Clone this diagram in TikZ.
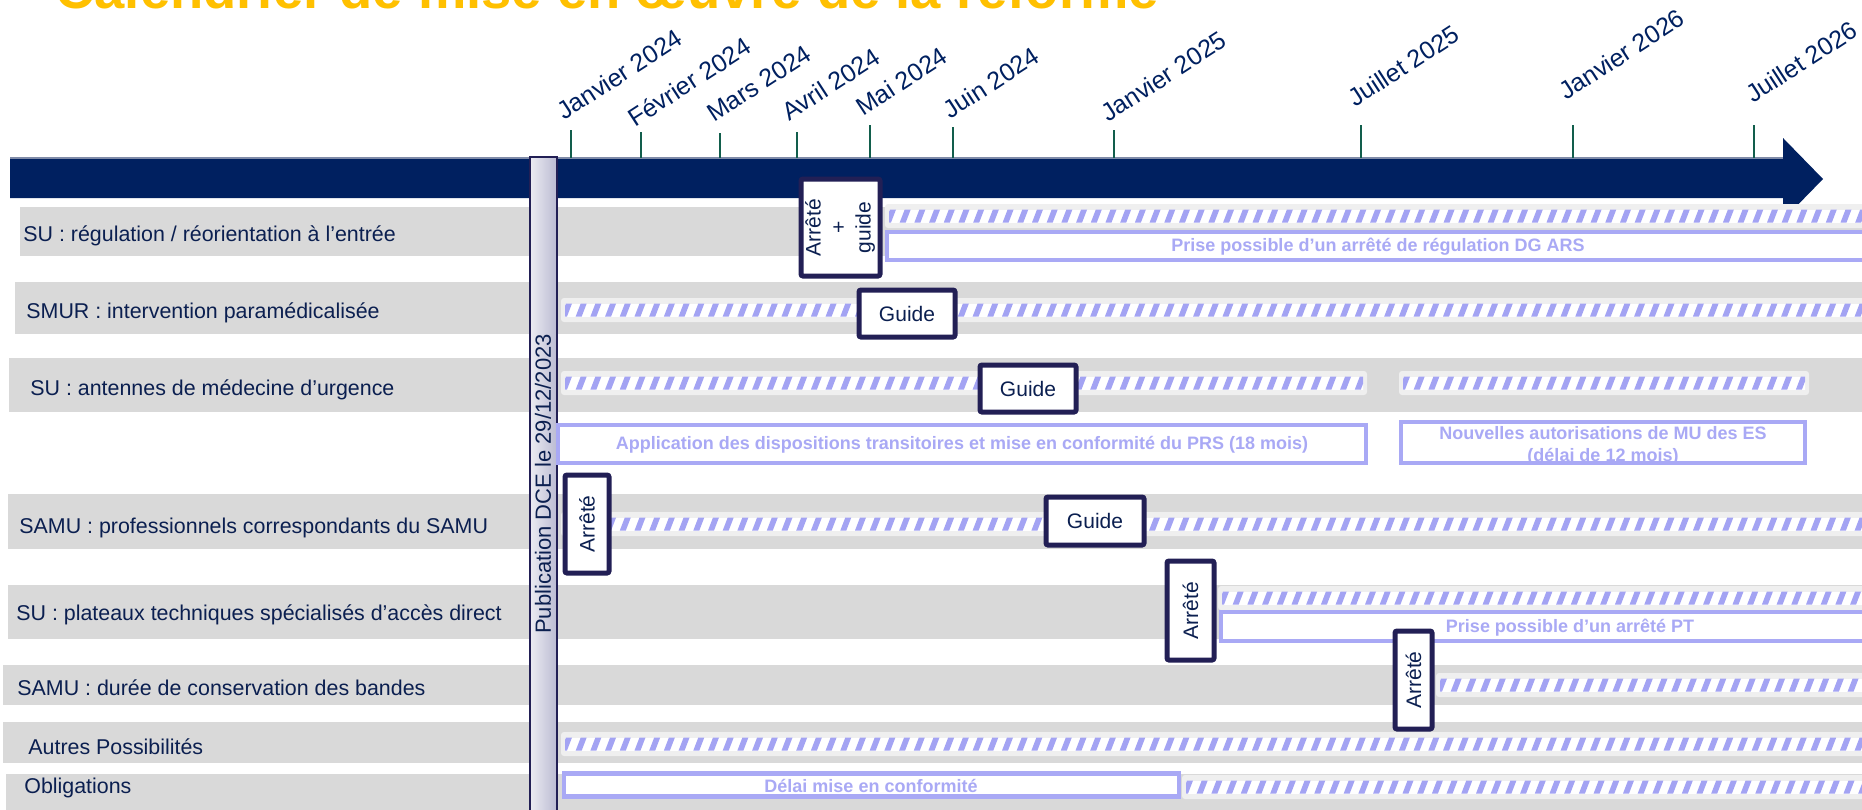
\documentclass[tikz,border=0pt]{standalone}
\usepackage{fontspec}
\setmainfont{Liberation Sans}
\usetikzlibrary{calc}
\definecolor{navy}{HTML}{002060}
\definecolor{txtnavy}{HTML}{0B1F50}
\definecolor{tickgreen}{HTML}{125E4C}
\definecolor{band}{HTML}{D9D9D9}
\definecolor{hatchbg}{HTML}{EFEFEF}
\definecolor{stripe}{HTML}{A3A3F3}
\definecolor{lav}{HTML}{A9A9F5}
\definecolor{evborder}{HTML}{221F55}
\definecolor{titleyellow}{HTML}{FFC000}
\definecolor{bartop}{HTML}{7F8BA8}

\newcommand{\hatchbar}[3]{%
  \fill[hatchbg, rounded corners=1.5pt] (#1,#3-12) rectangle (#2,#3+12);
  \begin{scope}
    \clip (#1+4,#3-6.5) rectangle (#2-4,#3+6.5);
    \fill[white] (#1,#3-6.5) rectangle (#2,#3+6.5);
    \pgfmathtruncatemacro{\nst}{(#2-#1)/14.7+1}
    \foreach \i in {0,...,\nst}{
      \fill[stripe] ({#1+\i*14.7},#3+6.5) -- ++(6,0) -- ++(5,-13) -- ++(-6,0) -- cycle;
    }
  \end{scope}}

\tikzset{
  rowlabel/.style={anchor=west, inner sep=0, font=\fontsize{10.7}{12}\selectfont, text=txtnavy},
  ticklabel/.style={anchor=base west, rotate=33, inner sep=0, font=\fontsize{12.5}{14}\selectfont, text=navy},
  tickline/.style={draw=tickgreen, line width=1pt},
  evbox/.style={draw=evborder, line width=2.5pt, fill=white, rounded corners=1pt, inner sep=0, outer sep=0,
    text=txtnavy, font=\fontsize{10.5}{12.5}\selectfont},
  lavbox/.style={draw=lav, line width=2.3pt, fill=white, inner sep=0, outer sep=0},
  lavtext/.style={inner sep=0, text=lav, font=\bfseries\fontsize{9}{11}\selectfont, align=center},
  bandfill/.style={fill=band}
}

\begin{document}
\begin{tikzpicture}[x=0.5pt, y=-0.5pt]
\useasboundingbox (0,0) rectangle (1862,809);
\clip (0,0) rectangle (1862,809);

% row bands
\fill[bandfill] (20,207) rectangle (1862,256);
\fill[bandfill] (15,282) rectangle (1862,334);
\fill[bandfill] (9,358) rectangle (1862,412);
\fill[bandfill] (8,494) rectangle (1862,549);
\fill[bandfill] (8,585) rectangle (1862,639);
\fill[bandfill] (3,665) rectangle (1862,705);
\fill[bandfill] (3,722) rectangle (1862,763);
\fill[bandfill] (6,774) rectangle (1862,812);

% timeline arrow
\fill[navy] (10,158) -- (1783,158) -- (1783,138) -- (1823,179) -- (1783,220) -- (1783,198) -- (10,198) -- cycle;
\draw[bartop, line width=0.6pt] (10,158) -- (1783,158);

% ticks
\foreach \tx/\ty in {571/130, 641/132, 720/133, 797/132, 870/125, 953/127, 1114/130, 1361/125, 1573/125, 1754/125}{
  \draw[tickline] (\tx,\ty) -- (\tx,158);
}

% tick labels
\node[ticklabel] (m1) at (564,121) {Janvier 2024};
\node[ticklabel] (m2) at (635,128) {Février 2024};
\node[ticklabel] (m3) at (714,123) {Mars 2024};
\node[ticklabel] (m4) at (789,122) {Avril 2024};
\node[ticklabel] (m5) at (863,117) {Mai 2024};
\node[ticklabel] (m6) at (950,120) {Juin 2024};
\node[ticklabel] (m7) at (1108,123) {Janvier 2025};
\node[ticklabel] (m8) at (1355,108) {Juillet 2025};
\node[ticklabel] (m9) at (1566,101) {Janvier 2026};
\node[ticklabel] (m10) at (1753,104) {Juillet 2026};

% row labels
\node[rowlabel] (r1) at (23,236) {SU : régulation / réorientation à l’entrée};
\node[rowlabel] (r2) at (26,313) {SMUR : intervention paramédicalisée};
\node[rowlabel] (r3) at (30,390) {SU : antennes de médecine d’urgence};
\node[rowlabel] (r4) at (19,528) {SAMU : professionnels correspondants du SAMU};
\node[rowlabel] (r5) at (16,615) {SU : plateaux techniques spécialisés d’accès direct};
\node[rowlabel] (r6) at (17,688) {SAMU : durée de conservation des bandes};
\node[rowlabel] (r7) at (28,747) {Autres Possibilités};
\node[rowlabel] (r8) at (24,788) {Obligations};

% publication bar
\shade[left color={rgb,255:red,236;green,236;blue,242}, right color={rgb,255:red,186;green,186;blue,210}] (530,157) rectangle (557,815);
\draw[evborder, line width=1pt] (530,815) -- (530,157) -- (557,157) -- (557,815);
\node[rotate=90, inner sep=0, font=\fontsize{11}{13}\selectfont, text=txtnavy] (dce) at (543,484) {Publication DCE le 29/12/2023};

% hatched bars
\hatchbar{885}{1870}{216}
\hatchbar{561}{1870}{310}
\hatchbar{561}{1367}{383}
\hatchbar{1399}{1809}{383}
\hatchbar{561}{1870}{524}
\hatchbar{1218}{1870}{598}
\hatchbar{1436}{1870}{685}
\hatchbar{561}{1870}{744}
\hatchbar{1182}{1870}{787}

% lavender boxes
\node[lavbox, minimum width=491.5pt, minimum height=14pt] (l1) at (1378.5,246) {};
\node[lavtext] (l1t) at (1378,247) {Prise possible d’un arrêté de régulation DG ARS};
\node[lavbox, minimum width=404pt, minimum height=19pt] (l2) at (962,444) {};
\node[lavtext] (l2t) at (962,445) {Application des dispositions transitoires et mise en conformité du PRS (18 mois)};
\node[lavbox, draw=none, minimum width=202pt, minimum height=20.5pt] (l3) at (1603,442.5) {};
\node[lavtext] (l3t) at (1603,446) {Nouvelles autorisations de MU des ES\\(délai de 12 mois)};
\draw[lav, line width=2.3pt] (l3.north west) rectangle (l3.south east);
\node[lavbox, minimum width=349pt, minimum height=14.5pt] (l4) at (1570,626.5) {};
\node[lavtext] (l4t) at (1570,628) {Prise possible d’un arrêté PT};
\node[lavbox, minimum width=307.5pt, minimum height=11.5pt] (l5) at (871.5,785) {};
\node[lavtext] (l5t) at (871,786) {Délai mise en conformité};

% event boxes
\node[evbox, minimum width=39.5pt, minimum height=48.5pt] (e1) at (840.5,227.5)
  {\rotatebox{90}{\begin{tabular}{@{}c@{}}Arrêté\\+\\guide\end{tabular}}};
\node[evbox, minimum width=48pt, minimum height=23.5pt] (e2) at (907,313.5) {Guide};
\node[evbox, minimum width=48pt, minimum height=23.5pt] (e3) at (1028,388.5) {Guide};
\node[evbox, minimum width=22pt, minimum height=49pt] (e4) at (587,524) {\rotatebox{90}{Arrêté}};
\node[evbox, minimum width=49pt, minimum height=24pt] (e5) at (1095,521) {Guide};
\node[evbox, minimum width=23.5pt, minimum height=49.5pt] (e6) at (1190.5,610.5) {\rotatebox{90}{Arrêté}};
\node[evbox, minimum width=18.5pt, minimum height=49pt] (e7) at (1413.5,680) {\rotatebox{90}{Arrêté}};

% title (cut by top edge)
\node[anchor=base west, inner sep=0, text=titleyellow, font=\bfseries\fontsize{27.2}{30}\selectfont] (title) at (55,8) {Calendrier de mise en œuvre de la réforme};
\end{tikzpicture}
\end{document}
